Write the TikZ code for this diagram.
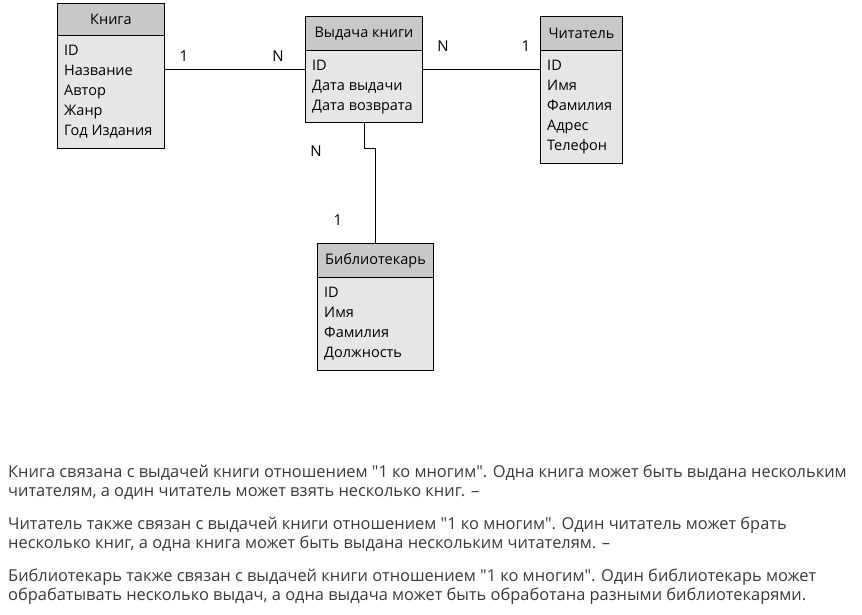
\documentclass[tikz,border=0pt]{standalone}
\usepackage{fontspec}
\setmainfont{Open Sans}
\definecolor{hdr}{HTML}{C8C8C8}
\definecolor{bdy}{HTML}{E6E6E6}
\definecolor{txt}{HTML}{3A3A3A}
\tikzset{
  hbox/.style={draw=black, line width=1pt, fill=hdr, inner sep=0pt, anchor=north west, font=\fontsize{14.5}{16}\selectfont},
  bbox/.style={draw=black, line width=1pt, fill=bdy, inner sep=0pt, anchor=north west},
  items/.style={inner sep=0pt, anchor=base west, align=left, font=\fontsize{14.5}{20}\selectfont},
  card/.style={font=\fontsize{15}{18}\selectfont, inner sep=0pt},
  para/.style={inner sep=0pt, anchor=base west, align=left, text=txt, font=\fontsize{16.4}{19}\selectfont},
  link/.style={draw=black, line width=1pt}
}
\begin{document}
\begin{tikzpicture}[x=1pt,y=-1pt]
\useasboundingbox (0,0) rectangle (862,614);
% Книга
\node[hbox, minimum width=107pt, minimum height=32pt] (kh) at (57,3) {Книга};
\node[bbox, minimum width=107pt, minimum height=113pt] (kb) at (57,35) {};
\node[items] (ki) at (64,135) {ID\\Название\\Автор\\Жанр\\Год Издания};
% Выдача книги
\node[hbox, minimum width=117pt, minimum height=34pt] (vh) at (305,16) {Выдача книги};
\node[bbox, minimum width=117pt, minimum height=72pt] (vb) at (305,50) {};
\node[items] (vi) at (312,110) {ID\\Дата выдачи\\Дата возврата};
% Читатель
\node[hbox, minimum width=82pt, minimum height=34pt] (ch) at (540,16) {Читатель};
\node[bbox, minimum width=82pt, minimum height=113pt] (cb) at (540,50) {};
\node[items] (ci) at (547,150) {ID\\Имя\\Фамилия\\Адрес\\Телефон};
% Библиотекарь
\node[hbox, minimum width=116pt, minimum height=34pt] (lh) at (317,243) {Библиотекарь};
\node[bbox, minimum width=116pt, minimum height=93pt] (lb) at (317,277) {};
\node[items] (li) at (324,357) {ID\\Имя\\Фамилия\\Должность};
% connectors
\coordinate (row) at (0,69);
\draw[link] (kb.east |- row) -- (vb.west |- row);
\draw[link] (vb.east |- row) -- (cb.west |- row);
\draw[link] (vb.south) -- ++(0,25) -| (lh.north);
% cardinalities
\node[card] (c1) at (184,56) {1};
\node[card] (c2) at (278,56) {N};
\node[card] (c3) at (443,46) {N};
\node[card] (c4) at (526,46) {1};
\node[card] (c5) at (316,151) {N};
\node[card] (c6) at (338,220) {1};
% text
\node[para] (p1) at (8,496) {Книга связана с выдачей книги отношением \textquotedbl1 ко многим\textquotedbl. Одна книга может быть выдана нескольким\\читателям, а один читатель может взять несколько книг. –};
\node[para] (p2) at (8,548) {Читатель также связан с выдачей книги отношением \textquotedbl1 ко многим\textquotedbl. Один читатель может брать\\несколько книг, а одна книга может быть выдана нескольким читателям. –};
\node[para] (p3) at (8,600) {Библиотекарь также связан с выдачей книги отношением \textquotedbl1 ко многим\textquotedbl. Один библиотекарь может\\обрабатывать несколько выдач, а одна выдача может быть обработана разными библиотекарями.};
\end{tikzpicture}
\end{document}
